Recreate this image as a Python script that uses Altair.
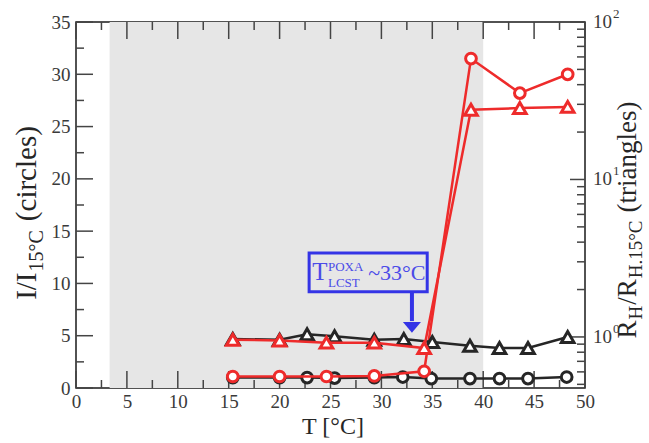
import altair as alt
import pandas as pd

FONT = "Liberation Serif"
RED = "#ee2b2b"
BLACK = "#262626"
BLUE = "#3434e6"
BLUE_TEXT = "#4b4be8"
GRAY = "#e6e6e6"
TICK = "#444444"
LABEL = "#3a3a3a"

# ---------------- data ----------------
# circles (left axis, I/I15)
bc_T = [15.4, 20.0, 22.7, 25.4, 29.3, 32.1, 34.9, 38.7, 41.6, 44.4, 48.2]
bc_v = [1.0, 1.0, 1.0, 0.95, 1.0, 1.05, 0.9, 0.9, 0.9, 0.9, 1.05]
rc_T = [15.4, 20.0, 24.6, 29.3, 34.2, 38.8, 43.6, 48.3]
rc_v = [1.1, 1.1, 1.1, 1.15, 1.6, 31.5, 28.2, 30.0]
# triangles (right log axis, RH/RH15)
bt_T = [15.4, 20.0, 22.7, 25.4, 29.3, 32.2, 35.0, 38.7, 41.6, 44.4, 48.3]
bt_v = [0.97, 0.96, 1.04, 1.01, 0.96, 0.97, 0.93, 0.88, 0.85, 0.85, 1.0]
rt_T = [15.4, 20.0, 24.6, 29.3, 34.2, 38.8, 43.6, 48.3]
rt_v = [0.96, 0.95, 0.92, 0.92, 0.85, 27.7, 28.4, 28.9]

shade_start = [3.3]
shade_end = [40.0]

# ticks
x_major = [0, 5, 10, 15, 20, 25, 30, 35, 40, 45, 50]
x_minor = [2.5, 7.5, 12.5, 17.5, 22.5, 27.5, 32.5, 37.5, 42.5, 47.5]
yl_major = [0, 5, 10, 15, 20, 25, 30, 35]
yl_minor = [2.5, 7.5, 12.5, 17.5, 22.5, 27.5, 32.5]
yr_major = [1, 10, 100]
yr_major_base = ["10", "10", "10"]
yr_major_exp = ["0", "1", "2"]
yr_minor = [0.5, 0.6, 0.7, 0.8, 0.9, 2, 3, 4, 5, 6, 7, 8, 9,
            20, 30, 40, 50, 60, 70, 80, 90]

# annotation (data coordinates)
box_T = [22.9]
box_T2 = [34.5]
box_v = [9.2]
box_v2 = [12.9]
arrow_T = [33.0]
arrow_top = [9.2]
arrow_bottom = [6.4]
arrow_head = [5.8]
ann_main = ["T"]
ann_sup = ["POXA"]
ann_sub = ["LCST"]
ann_rest = ["~33°C"]

# ---------------- scales / axes ----------------
W, H = 509, 366
xscale = alt.Scale(domain=[0, 50], nice=False, zero=False)
yLscale = alt.Scale(domain=[0, 35], nice=False, zero=False)
yRscale = alt.Scale(type="log", domain=[0.474, 100], nice=False)

xaxis = alt.Axis(values=x_major, title=None, domain=False, ticks=False, grid=False,
                 labelFont=FONT, labelFontSize=19, labelColor=LABEL, labelPadding=4,
                 labelFlush=False, labelOverlap=False)
yLaxis = alt.Axis(values=yl_major, title=None, domain=False, ticks=False, grid=False,
                  labelFont=FONT, labelFontSize=19, labelColor=LABEL, labelPadding=6,
                  labelOverlap=False)


def X(f="T"):
    return alt.X(f"{f}:Q", scale=xscale, axis=xaxis)


def YL(f="v"):
    return alt.Y(f"{f}:Q", scale=yLscale, axis=yLaxis)


def YR(f="v"):
    return alt.Y(f"{f}:Q", scale=yRscale, axis=None)


def df(**kw):
    return pd.DataFrame(kw)


# ---------------- left layer ----------------
gray = alt.Chart(df(T=shade_start, T2=shade_end)).mark_rect(color=GRAY).encode(
    x=X(), x2="T2:Q", y=alt.value(0), y2=alt.value(H))

MAJ, MIN = 17, 8
top_maj = alt.Chart(df(T=x_major)).mark_rule(color=TICK, strokeWidth=1.5).encode(
    x=X(), y=alt.value(0), y2=alt.value(MAJ))
top_min = alt.Chart(df(T=x_minor)).mark_rule(color=TICK, strokeWidth=1.5).encode(
    x=X(), y=alt.value(0), y2=alt.value(MIN))
bot_maj = alt.Chart(df(T=x_major)).mark_rule(color=TICK, strokeWidth=1.5).encode(
    x=X(), y=alt.value(H), y2=alt.value(H - MAJ))
bot_min = alt.Chart(df(T=x_minor)).mark_rule(color=TICK, strokeWidth=1.5).encode(
    x=X(), y=alt.value(H), y2=alt.value(H - MIN))
left_maj = alt.Chart(df(v=yl_major)).mark_rule(color=TICK, strokeWidth=1.5).encode(
    y=YL(), x=alt.value(0), x2=alt.value(MAJ))
left_min = alt.Chart(df(v=yl_minor)).mark_rule(color=TICK, strokeWidth=1.5).encode(
    y=YL(), x=alt.value(0), x2=alt.value(MIN))

box = alt.Chart(df(T=box_T, T2=box_T2, v=box_v, v2=box_v2)).mark_rect(
    fillOpacity=0, stroke=BLUE, strokeWidth=3).encode(
    x=X(), x2="T2:Q", y=YL(), y2="v2:Q")
shaft = alt.Chart(df(T=arrow_T, v=arrow_top, v2=arrow_bottom)).mark_rule(
    color=BLUE, strokeWidth=4).encode(x=X(), y=YL(), y2="v2:Q")
head = alt.Chart(df(T=arrow_T, v=arrow_head)).mark_point(
    shape="M -1 -0.6 L 1 -0.6 L 0 0.6 Z", filled=True, color=BLUE, opacity=1,
    size=324).encode(x=X(), y=YL())

ann_y = 10.33
t_main = alt.Chart(df(T=[23.2], v=[ann_y], t=ann_main)).mark_text(
    align="left", baseline="alphabetic", font=FONT, fontSize=25, color=BLUE_TEXT).encode(
    x=X(), y=YL(), text="t:N")
t_sup = alt.Chart(df(T=[24.75], v=[11.15], t=ann_sup)).mark_text(
    align="left", baseline="alphabetic", font=FONT, fontSize=13, color=BLUE_TEXT).encode(
    x=X(), y=YL(), text="t:N")
t_sub = alt.Chart(df(T=[24.75], v=[9.7], t=ann_sub)).mark_text(
    align="left", baseline="alphabetic", font=FONT, fontSize=13, color=BLUE_TEXT).encode(
    x=X(), y=YL(), text="t:N")
t_rest = alt.Chart(df(T=[28.7], v=[ann_y], t=ann_rest)).mark_text(
    align="left", baseline="alphabetic", font=FONT, fontSize=22, color=BLUE_TEXT).encode(
    x=X(), y=YL(), text="t:N")


def series(T, v, color, shape, Y, size):
    d = df(T=T, v=v)
    line = alt.Chart(d).mark_line(color=color, strokeWidth=2.5).encode(x=X(), y=Y())
    pts = alt.Chart(d).mark_point(shape=shape, filled=True, fill="white", stroke=color,
                                  strokeWidth=3, size=size, opacity=1).encode(x=X(), y=Y())
    return [line, pts]


left = alt.layer(gray, top_maj, top_min, bot_maj, bot_min, left_maj, left_min,
                 box, shaft, head, t_main, t_sup, t_sub, t_rest,
                 *series(bc_T, bc_v, BLACK, "circle", YL, 115),
                 *series(rc_T, rc_v, RED, "circle", YL, 115))

# ---------------- right layer ----------------
right_maj = alt.Chart(df(v=yr_major)).mark_rule(color=TICK, strokeWidth=1.5).encode(
    y=YR(), x=alt.value(W), x2=alt.value(W - 15))
right_min = alt.Chart(df(v=yr_minor)).mark_rule(color=TICK, strokeWidth=1.5).encode(
    y=YR(), x=alt.value(W), x2=alt.value(W - MIN))
right_lab = alt.Chart(df(v=yr_major, t=yr_major_base)).mark_text(
    align="left", baseline="middle", font=FONT, fontSize=19, color=LABEL).encode(
    y=YR(), x=alt.value(W + 8), text="t:N")
right_exp = alt.Chart(df(v=yr_major, t=yr_major_exp)).mark_text(
    align="left", baseline="middle", font=FONT, fontSize=13, color=LABEL, dy=-8).encode(
    y=YR(), x=alt.value(W + 8 + 20), text="t:N")

right = alt.layer(right_maj, right_min, right_lab, right_exp,
                  *series(bt_T, bt_v, BLACK, "triangle-up", YR, 160),
                  *series(rt_T, rt_v, RED, "triangle-up", YR, 160))

# ---------------- titles (composed with sub/superscripts) ----------------
TW = {' ': 250, '(': 333, ')': 333, '.': 250, '/': 278, '1': 500, '3': 500, '5': 500,
      '°': 400, '[': 333, ']': 333, '~': 541, 'A': 722, 'C': 667, 'H': 722, 'I': 333,
      'L': 611, 'O': 722, 'P': 556, 'R': 667, 'S': 556, 'T': 611, 'X': 722, 'a': 444,
      'c': 444, 'e': 444, 'g': 500, 'i': 278, 'l': 278, 'n': 500, 'r': 333, 's': 389,
      't': 278}


def tw(s, size):
    return sum(TW.get(c, 500) for c in s) / 1000.0 * size


def vertical_title(pieces, x_base, y_center):
    # pieces: (text, fontsize, baseline shift, gap before in px)
    total = sum(tw(t, f) + g for t, f, _, g in pieces)
    y = y_center + total / 2
    out = []
    for t, f, shift, g in pieces:
        y -= g
        out.append(alt.Chart(df(t=[t])).mark_text(
            align="left", baseline="alphabetic", angle=270, font=FONT, fontSize=f,
            color=BLACK).encode(x=alt.value(x_base + shift), y=alt.value(y), text="t:N"))
        y -= tw(t, f)
    return out


TF, SF, SH = 29, 20, 7
left_title = vertical_title([("I/I", TF, 0, 0), ("15°C", SF, SH, 1),
                             ("(circles)", TF, 0, 9)], -40, 191)
RF, RSF, RSH = 27, 19, 6
right_title = vertical_title([("R", RF, 0, 0), ("H", RSF, RSH, 1), ("/R", RF, 0, 1),
                              ("H.15°C", RSF, RSH, 1), ("(triangles)", RF, 0, 8)],
                             560, 198)
x_title = alt.Chart(df(t=["T [°C]"])).mark_text(
    align="center", baseline="alphabetic", font=FONT, fontSize=24, color=BLACK).encode(
    x=alt.value(257), y=alt.value(412), text="t:N")

chart = alt.layer(left, right, *left_title, *right_title, x_title).resolve_scale(
    y="independent").properties(
    width=W, height=H,
    padding={"left": 76, "top": 22, "right": 64, "bottom": 55},
    autosize=alt.AutoSizeParams(type="none"),
    background="white",
).configure_view(stroke="#1a1a1a", strokeWidth=1.5)

chart.save("out.html", embed_options={"renderer": "svg", "actions": False})
